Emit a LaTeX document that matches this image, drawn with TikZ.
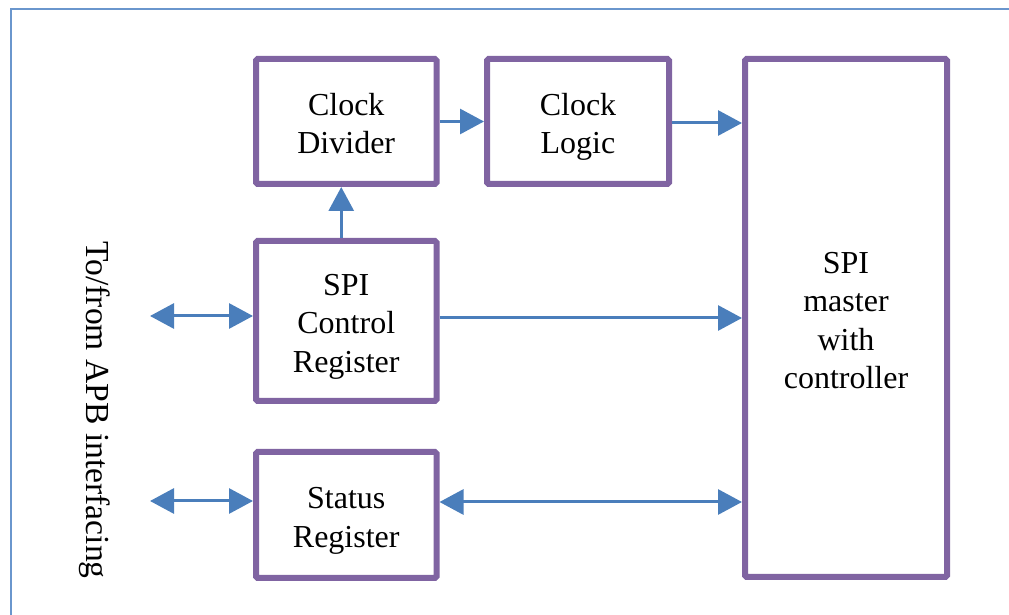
\documentclass[tikz,border=0pt]{standalone}
\usepackage{fontspec}
\setmainfont{Liberation Serif}
\usetikzlibrary{arrows.meta}
\definecolor{boxpurple}{HTML}{8064A2}
\definecolor{linkblue}{HTML}{4A7EBB}
\definecolor{frameblue}{HTML}{6A96CD}
% taller first-line strut: sets block text slightly below the box centre
\newcommand\liftstrut{\rule{0pt}{18.6pt}}
\tikzset{
  block/.style={draw=boxpurple, line width=3pt, rectangle, inner sep=0pt,
    rounded corners=0.8pt, align=center,
    font=\fontsize{16}{19.2}\selectfont},
  link/.style={draw=linkblue, line width=1.5pt,
    -{Triangle[length=12pt,width=12.5pt]}},
  biglink/.style={draw=linkblue, line width=1.5pt,
    {Triangle[length=12pt,width=12.5pt]}-{Triangle[length=12pt,width=12.5pt]}},
  frame/.style={draw=frameblue, line width=1.2pt}
}
\begin{document}
\begin{tikzpicture}[x=0.5pt,y=-0.5pt]
\useasboundingbox (0,0) rectangle (1009,615);
% surrounding frame (top and left sides)
\draw[frame] (1012,9) -- (11,9) -- (11,618);

% blocks
\node[block, minimum width=90.25pt, minimum height=62.5pt] (cd) at (346.25,121.5) {\liftstrut Clock\\Divider\strut};
\node[block, minimum width=91pt, minimum height=62.5pt] (cl) at (578,121.5) {\liftstrut Clock\\Logic\strut};
\node[block, minimum width=101pt, minimum height=259pt] (m) at (846,318) {\liftstrut SPI\\master\\with\\controller\strut};
\node[block, minimum width=90.25pt, minimum height=80pt] (cr) at (346.25,321) {\liftstrut SPI\\Control\\Register\strut};
\node[block, minimum width=90.25pt, minimum height=63pt] (st) at (346.25,515) {\liftstrut Status\\Register\strut};

% side label
\node[rotate=-90, font=\fontsize{16.8}{20}\selectfont] (apb) at (95,410) {To/from APB interfacing};

% free ends on the bus side
\coordinate (crbus) at (150,316);
\coordinate (stbus) at (150,501);

% connectors
\draw[link] (cd.east) -- (cl.west);
\draw[link] ([yshift=-0.75pt]cl.east) -- ([yshift=-0.75pt]cl.east -| m.west);
\draw[link] ([xshift=-2.5pt]cr.north) -- ([xshift=-2.5pt]cd.south);
\draw[link] ([yshift=1.5pt]cr.east) -- ([yshift=1.5pt]cr.east -| m.west);
\draw[biglink] ([yshift=6.5pt]st.east) -- ([yshift=6.5pt]st.east -| m.west);
\draw[biglink] (crbus) -- (crbus -| cr.west);
\draw[biglink] (stbus) -- (stbus -| st.west);
\end{tikzpicture}
\end{document}
